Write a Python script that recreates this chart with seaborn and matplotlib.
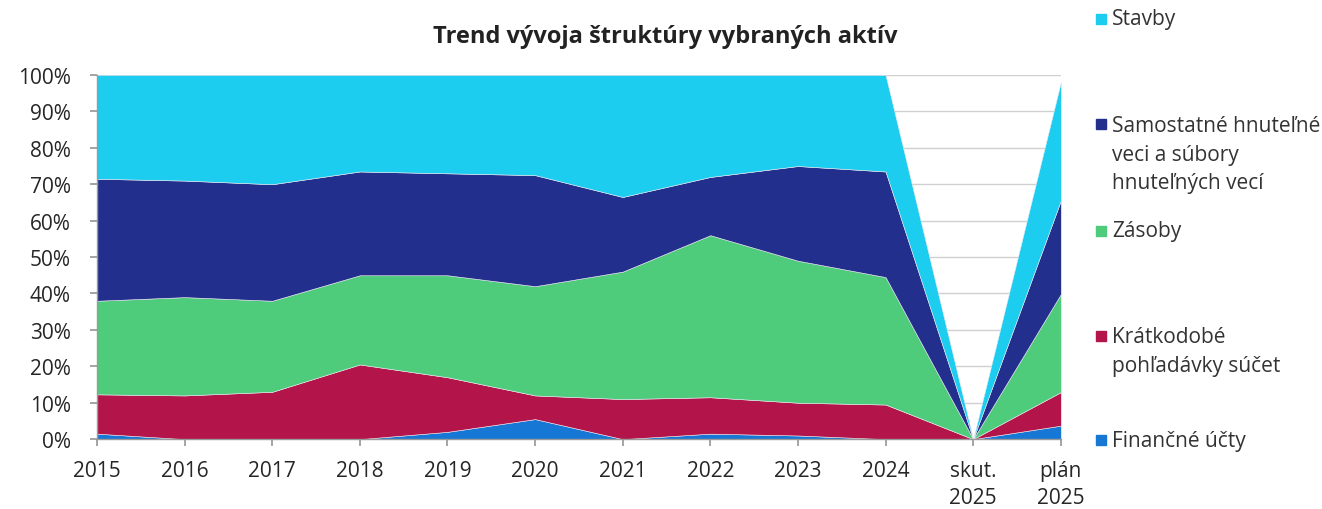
import matplotlib
matplotlib.use("Agg")
import matplotlib.pyplot as plt
import seaborn as sns
import numpy as np
from matplotlib.patches import Rectangle

# categories on the x axis
periods = ["2015", "2016", "2017", "2018", "2019", "2020", "2021", "2022",
           "2023", "2024", "skut.\n2025", "plán\n2025"]

# shares of each asset group (%)
financne_ucty = [1.5, 0, 0, 0, 2, 5.5, 0, 1.5, 1, 0, 0, 3.7]
kratkodobe_pohl = [10.8, 12, 13, 20.5, 15, 6.5, 11, 10, 9, 9.5, 0, 9.2]
zasoby = [25.7, 27, 25, 24.5, 28, 30, 35, 44.5, 39, 35, 0, 26.9]
samostatne_veci = [33.5, 32, 32, 28.5, 28, 30.5, 20.5, 16, 26, 29, 0, 25.7]
stavby = [28.5, 29, 30, 26.5, 27, 27.5, 33.5, 28, 25, 26.5, 0, 32.5]

labels = ["Finančné účty", "Krátkodobé\npohľadávky súčet", "Zásoby",
          "Samostatné hnuteľné\nveci a súbory\nhnuteľných vecí", "Stavby"]
colors = sns.color_palette(["#1677d4", "#b3144a", "#4fcb7c", "#222f8c", "#1ccdf0"])

sns.set_theme(style="white")
plt.rcParams["font.family"] = ["Open Sans", "DejaVu Sans"]

fig = plt.figure(figsize=(13.22, 5.1), dpi=100)
ax = fig.add_axes([0.0734, 0.137, 0.729, 0.714])

x = np.arange(len(periods))
series = [financne_ucty, kratkodobe_pohl, zasoby, samostatne_veci, stavby]
ax.yaxis.grid(True, color="#d0d0d0", lw=1)
ax.set_axisbelow(True)
ax.stackplot(x, *series, colors=colors, edgecolor="#e8e8f0", linewidth=0.4, zorder=2)

ax.set_xlim(0, len(periods) - 1)
ax.set_ylim(0, 100)
ax.set_yticks(np.arange(0, 101, 10))
ax.set_yticklabels([f"{v}%" for v in range(0, 101, 10)], fontsize=15)
ax.set_xticks(x)
ax.set_xticklabels(periods, fontsize=15, linespacing=1.4)
ax.tick_params(axis="x", length=5, color="#999999", direction="out", bottom=True, pad=10)
ax.tick_params(axis="y", length=5, color="#999999", direction="out", left=True, pad=14)
for s in ["top", "right"]:
    ax.spines[s].set_visible(False)
for s in ["left", "bottom"]:
    ax.spines[s].set_color("#999999")
    ax.spines[s].set_linewidth(1)

fig.text(0.503, 0.927, "Trend vývoja štruktúry vybraných aktív", ha="center",
         va="center", fontsize=17, fontweight="bold", color="#222222")

# legend on the right, top to bottom
legend_y = [20, 155, 232, 352, 441]
for lab, col, yp in zip(labels[::-1], list(colors)[::-1], legend_y):
    n = lab.count("\n") + 1
    top_line = yp - (n - 1) * 30 / 2
    fig.patches.append(Rectangle((1096 / 1322, 1 - (top_line + 5) / 510), 10 / 1322, 10 / 510,
                                 transform=fig.transFigure, color=col))
    fig.text(1112 / 1322, 1 - yp / 510, lab, ha="left", va="center", fontsize=15,
             color="#333333", linespacing=1.45)

fig.savefig("out.png", dpi=100)
